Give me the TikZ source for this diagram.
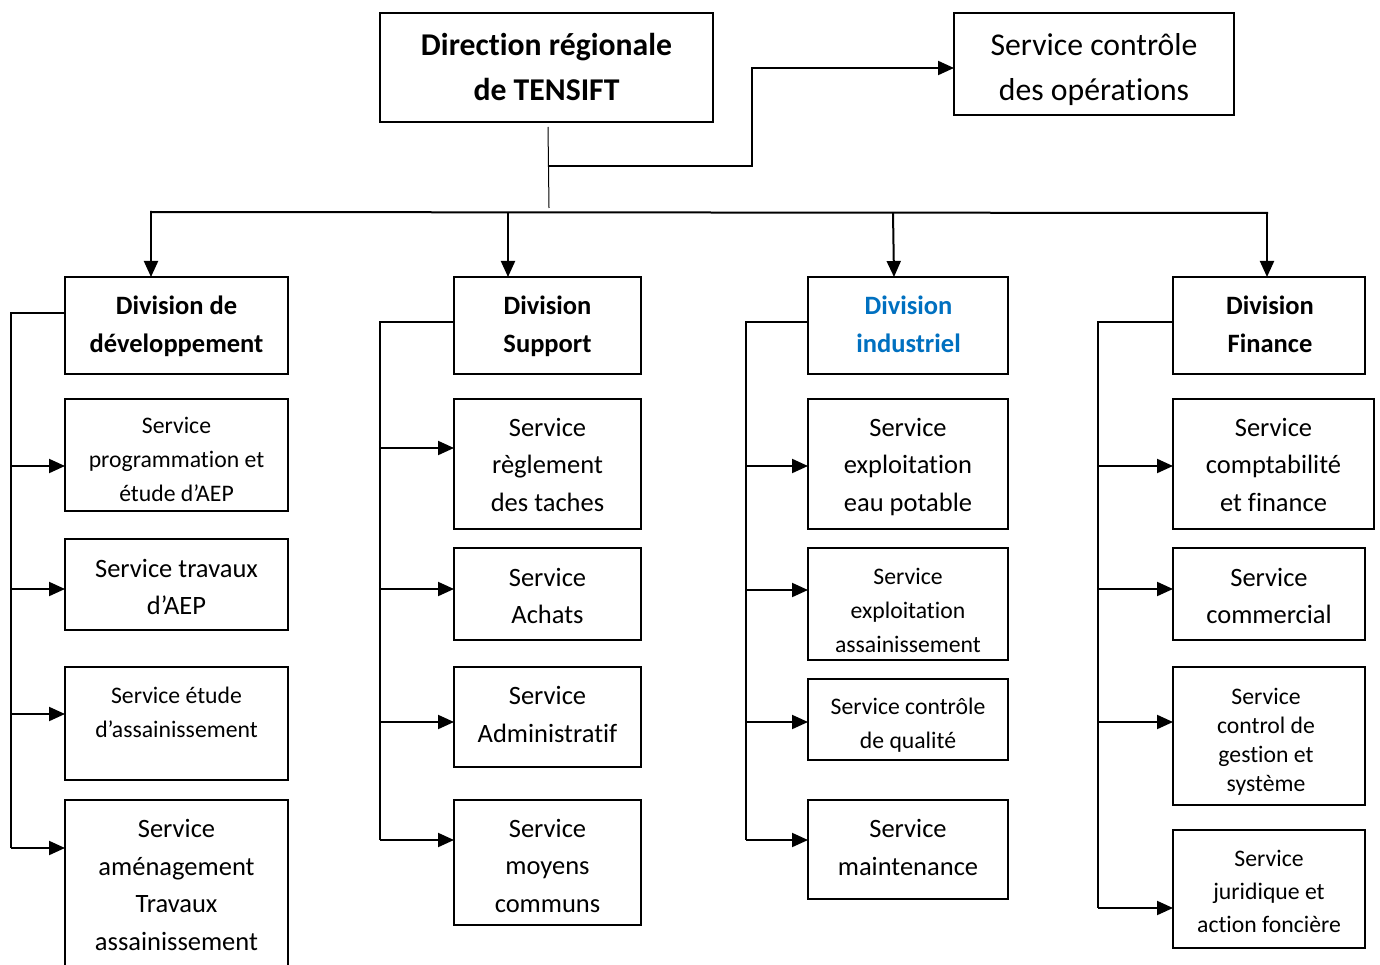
\documentclass[tikz,border=0pt]{standalone}
\usepackage{fontspec}
\setmainfont{Carlito}[Ligatures=CommonOff]
\usetikzlibrary{arrows.meta}
\definecolor{divblue}{HTML}{0070C0}
\newcommand\obox[5]{\node[box,anchor=north west,minimum width={(#4-#2)*1pt},minimum height={(#5-#3)*1pt}] (#1) at (#2,#3) {};}
\begin{document}
\begin{tikzpicture}[x=1pt,y=-1pt,
  box/.style={draw,line width=1.6pt,inner sep=0pt,outer sep=0pt},
  conn/.style={line width=2pt},
  thinconn/.style={line width=1pt},
  arr/.style={line width=2pt,-{Triangle[length=16pt,width=14pt]}},
  txt/.style={align=center,inner sep=0pt,yshift=-6.5pt,execute at begin node=\strut,execute at end node=\strut},
  fTop/.style={txt,font=\fontsize{31.7}{45}\selectfont},
  fTopB/.style={txt,font=\bfseries\fontsize{31.7}{45}\selectfont},
  fDiv/.style={txt,font=\bfseries\fontsize{26.5}{38}\selectfont},
  fMed/.style={txt,font=\fontsize{26.5}{37.5}\selectfont},
  fSm/.style={txt,font=\fontsize{23.7}{34}\selectfont},
  fSmT/.style={txt,font=\fontsize{23.7}{29}\selectfont},
  fSmJ/.style={txt,font=\fontsize{23.7}{33}\selectfont}]
\useasboundingbox (0,0) rectangle (1380,965);
% top boxes
\obox{dir}{380}{13}{713}{122}
\node[fTopB] (tdir) at (546.5,67) {Direction régionale\\de TENSIFT};
\obox{sco}{954}{13}{1234}{115}
\node[fTop] (tsco) at (1094,67) {Service contrôle\\des opérations};
% divisions
\obox{d1}{65}{277}{288}{374}
\node[fDiv] (td1) at (176.5,323.5) {Division de\\développement};
\obox{d2}{454}{277}{641}{374}
\node[fDiv] (td2) at (547.5,323.5) {Division\\Support};
\obox{d3}{808}{277}{1008}{374}
\node[fDiv,text=divblue] (td3) at (908.5,323.5) {Division\\industriel};
\obox{d4}{1173}{277}{1365}{374}
\node[fDiv] (td4) at (1270,323.5) {Division\\Finance};
% column 1
\obox{s11}{65}{399}{288}{511}
\node[fSm] (t11) at (176.5,458) {Service\\programmation et\\étude d’AEP};
\obox{s12}{65}{539}{288}{630}
\node[fMed] (t12) at (176.5,586) {Service travaux\\d’AEP};
\obox{s13}{65}{667}{288}{780}
\node[fSm] (t13) at (176.5,710.5) {Service étude\\d’assainissement};
\obox{s14}{65}{800}{288}{980}
\node[fMed] (t14) at (176.5,884) {Service\\aménagement\\Travaux\\assainissement};
% column 2
\obox{s21}{454}{399}{641}{529}
\node[fMed] (t21) at (547.5,464) {Service\\règlement\\des taches};
\obox{s22}{454}{548}{641}{640}
\node[fMed] (t22) at (547.5,595) {Service\\Achats};
\obox{s23}{454}{667}{641}{767}
\node[fMed] (t23) at (547.5,713.5) {Service\\Administratif};
\obox{s24}{454}{800}{641}{925}
\node[fMed] (t24) at (547.5,865) {Service\\moyens\\communs};
% column 3
\obox{s31}{808}{399}{1008}{529}
\node[fMed] (t31) at (908,464) {Service\\exploitation\\eau potable};
\obox{s32}{808}{548}{1008}{660}
\node[fSm] (t32) at (908,608.5) {Service\\exploitation\\assainissement};
\obox{s33}{808}{679}{1008}{760}
\node[fSm] (t33) at (908,721.5) {Service contrôle\\de qualité};
\obox{s34}{808}{800}{1008}{899}
\node[fMed] (t34) at (908,846.5) {Service\\maintenance};
% column 4
\obox{s41}{1173}{399}{1374}{529}
\node[fMed] (t41) at (1273.5,464) {Service\\comptabilité\\et finance};
\obox{s42}{1173}{548}{1365}{640}
\node[fMed] (t42) at (1269,595) {Service\\commercial};
\obox{s43}{1173}{667}{1365}{805}
\node[fSmT] (t43) at (1266,737.5) {Service\\control de\\gestion et\\système};
\obox{s44}{1173}{830}{1365}{948}
\node[fSmJ] (t44) at (1269,889.5) {Service\\juridique et\\action foncière};
% top connectors
\coordinate (j0) at (549,166);
\coordinate (busL) at (150,212);
\coordinate (busR) at (1268,213);
\draw[thinconn] ([shift={(1.5,5)}]dir.south) -- (549,208);
\draw[arr] (j0) -- (752,166) -- (752,68) -- (sco.west |- 752,68);
\draw[conn] (busL) -- (busR);
\draw[arr] (151,212) -- (d1.north -| 151,0);
\draw[arr] (508,212) -- (d2.north -| 508,0);
\draw[arr] (893,213) -- (d3.north -| 894,0);
\draw[arr] (1267,213) -- (d4.north -| 1267,0);
% spines
\coordinate (sp1) at (11,0);
\coordinate (sp2) at (380,0);
\coordinate (sp3) at (746,0);
\coordinate (sp4) at (1098,0);
\draw[conn] (d1.west |- 0,313) -- (sp1 |- 0,313) -- (sp1 |- 0,848);
\draw[conn] (d2.west |- 0,322) -- (sp2 |- 0,322) -- (sp2 |- 0,840);
\draw[conn] (d3.west |- 0,322) -- (sp3 |- 0,322) -- (sp3 |- 0,840);
\draw[conn] (d4.west |- 0,322) -- (sp4 |- 0,322) -- (sp4 |- 0,908);
\foreach \b/\yy in {s11/466,s12/589,s13/714,s14/848}
  \draw[arr] (sp1 |- 0,\yy) -- (\b.west |- 0,\yy);
\foreach \b/\yy in {s21/448,s22/589,s23/722,s24/840}
  \draw[arr] (sp2 |- 0,\yy) -- (\b.west |- 0,\yy);
\foreach \b/\yy in {s31/466,s32/590,s33/722,s34/840}
  \draw[arr] (sp3 |- 0,\yy) -- (\b.west |- 0,\yy);
\foreach \b/\yy in {s41/466,s42/589,s43/722,s44/908}
  \draw[arr] (sp4 |- 0,\yy) -- (\b.west |- 0,\yy);
\end{tikzpicture}
\end{document}
